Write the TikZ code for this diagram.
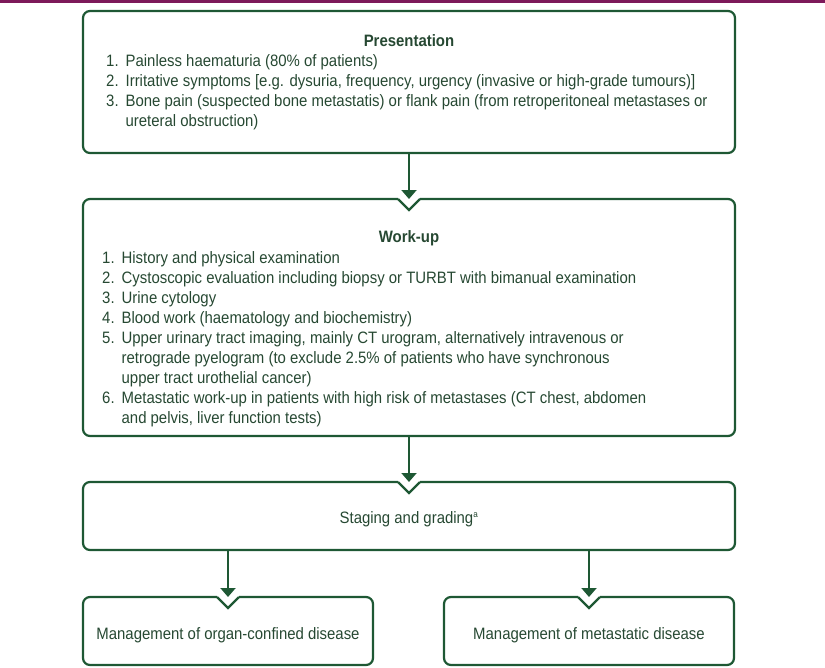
\documentclass[tikz,border=0pt]{standalone}
\usepackage{fontspec}
\setmainfont{Liberation Sans}[FakeStretch=0.905]
\usetikzlibrary{arrows.meta,calc}
\definecolor{lg}{RGB}{30,88,52}
\definecolor{tg}{RGB}{38,72,50}
\definecolor{pu}{RGB}{125,25,90}
\newcommand\notchbox[1]{%
  \draw[boxline] ([xshift=-11pt]#1.north) -- (#1.north west) -- (#1.south west) -- (#1.south east) -- (#1.north east) -- ([xshift=11pt]#1.north);
  \draw[notchline] ([xshift=-11pt]#1.north) -- ([yshift=-11pt]#1.north) -- ([xshift=11pt]#1.north);}
\begin{document}
\begin{tikzpicture}[x=1pt,y=-1pt,
  boxline/.style={draw=lg,line width=2.2pt,rounded corners=7pt},
  notchline/.style={draw=lg,line width=2.2pt},
  box/.style={rectangle,draw=none,inner sep=0pt,outer sep=0pt},
  arr/.style={draw=lg,line width=2pt,-{Triangle[width=15pt,length=9pt]}},
  txt/.style={text=tg,inner sep=0pt,font=\fontsize{16.5}{20}\selectfont},
  ttl/.style={text=tg,inner sep=0pt,font=\bfseries\fontsize{16.5}{20}\selectfont},
]
\useasboundingbox (0,0) rectangle (825,667);
\fill[pu] (0,0) rectangle (825,3);
% boxes
\node[box,minimum width=652pt,minimum height=142pt] (b1) at (409,82) {};
\node[box,minimum width=652pt,minimum height=237pt] (b2) at (409,317.5) {};
\node[box,minimum width=652pt,minimum height=68pt] (b3) at (409,516) {};
\node[box,minimum width=290pt,minimum height=68pt] (b4) at (228,631) {};
\node[box,minimum width=290pt,minimum height=68pt] (b5) at (589,631) {};
\draw[boxline] (b1.north west) rectangle (b1.south east);
\notchbox{b2}
\notchbox{b3}
\notchbox{b4}
\notchbox{b5}
% arrows
\draw[arr] (b1.south) -- (b2.north);
\draw[arr] (b2.south) -- (b3.north);
\draw[arr] (b3.south -| b4.north) -- (b4.north);
\draw[arr] (b3.south -| b5.north) -- (b5.north);
% texts
\node[ttl] (t1) at (409,41) {Presentation};
\node[txt,anchor=north west] (l1) at (106,52) {\begin{tabular}{@{}r@{\hspace{7pt}}l@{}}
1.&Painless haematuria (80\% of patients)\\
2.&Irritative symptoms [e.g. dysuria, frequency, urgency (invasive or high-grade tumours)]\\
3.&Bone pain (suspected bone metastatis) or flank pain (from retroperitoneal metastases or\\
&ureteral obstruction)
\end{tabular}};
\node[ttl] (t2) at (409,238) {Work-up};
\node[txt,anchor=north west] (l2) at (102,249) {\begin{tabular}{@{}r@{\hspace{7pt}}l@{}}
1.&History and physical examination\\
2.&Cystoscopic evaluation including biopsy or TURBT with bimanual examination\\
3.&Urine cytology\\
4.&Blood work (haematology and biochemistry)\\
5.&Upper urinary tract imaging, mainly CT urogram, alternatively intravenous or\\
&retrograde pyelogram (to exclude 2.5\% of patients who have synchronous\\
&upper tract urothelial cancer)\\
6.&Metastatic work-up in patients with high risk of metastases (CT chest, abdomen\\
&and pelvis, liver function tests)
\end{tabular}};
\node[txt] (t3) at (409,519) {Staging and grading\textsuperscript{\fontsize{9}{9}\selectfont a}};
\node[txt] (t4) at (228,635) {Management of organ-confined disease};
\node[txt] (t5) at (589,635) {Management of metastatic disease};
\end{tikzpicture}
\end{document}
